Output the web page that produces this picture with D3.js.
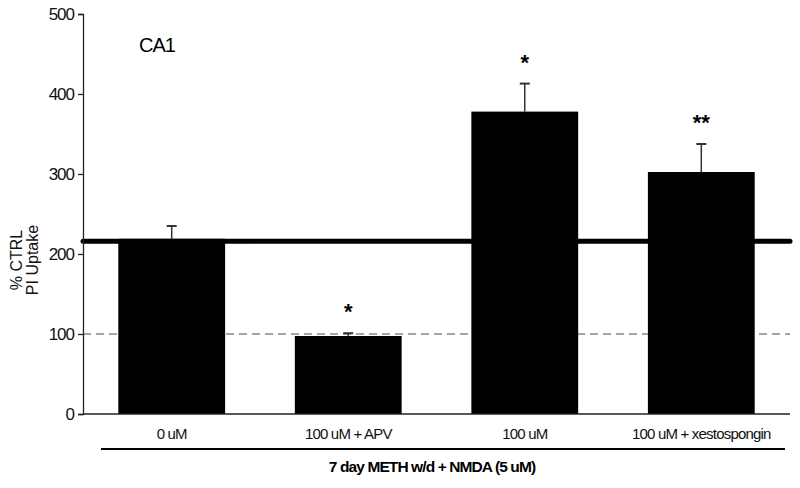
<!DOCTYPE html>
<html>
<head>
<meta charset="utf-8">
<script src="https://cdn.jsdelivr.net/npm/d3@7"></script>
<style>
body { margin: 0; background: #fff; }
text { font-family: "Liberation Sans", Arial, sans-serif; }
</style>
</head>
<body>
<script>
// data
var groups = ["0 uM", "100 uM + APV", "100 uM", "100 uM + xestospongin"]
var means = [219, 97.5, 378, 302.5]
var errs = [16, 3.5, 35, 35]
var stars = ["", "*", "*", "**"]
var yticks = [0, 100, 200, 300, 400, 500]
var baseline = 216
var ctrl = 100

var width = 800, height = 488
var mleft = 83, mright = 790, mtop = 14, mbottom = 414

var svg = d3.select("body").append("svg")
    .attr("width", width)
    .attr("height", height)

var xscale = d3.scaleBand()
    .domain(groups)
    .range([mleft, mright])
    .paddingInner(0.395)
    .paddingOuter(0.2)

var yscale = d3.scaleLinear()
    .domain([0, 500])
    .range([mbottom, mtop])

// dashed control line
svg.append("line")
    .attr("x1", mleft).attr("x2", mright)
    .attr("y1", yscale(ctrl)).attr("y2", yscale(ctrl))
    .attr("stroke", "#888")
    .attr("stroke-width", 1.3)
    .attr("stroke-dasharray", "8,5")

// thick reference line
svg.append("line")
    .attr("x1", mleft).attr("x2", mright)
    .attr("y1", yscale(baseline)).attr("y2", yscale(baseline))
    .attr("stroke", "#000")
    .attr("stroke-width", 5)
    .attr("stroke-linecap", "round")

// error bars
var eb = svg.selectAll(".err")
    .data(groups)
    .enter()
    .append("g")
    .attr("class", "err")
eb.append("line")
    .attr("x1", function(d) { return xscale(d) + xscale.bandwidth() / 2 })
    .attr("x2", function(d) { return xscale(d) + xscale.bandwidth() / 2 })
    .attr("y1", function(d, i) { return yscale(means[i]) })
    .attr("y2", function(d, i) { return yscale(means[i] + errs[i]) })
    .attr("stroke", "#333")
    .attr("stroke-width", 1.5)
eb.append("line")
    .attr("x1", function(d) { return xscale(d) + xscale.bandwidth() / 2 - 5 })
    .attr("x2", function(d) { return xscale(d) + xscale.bandwidth() / 2 + 5 })
    .attr("y1", function(d, i) { return yscale(means[i] + errs[i]) })
    .attr("y2", function(d, i) { return yscale(means[i] + errs[i]) })
    .attr("stroke", "#333")
    .attr("stroke-width", 2)

// bars
svg.selectAll(".bar")
    .data(groups)
    .enter()
    .append("rect")
    .attr("class", "bar")
    .attr("x", function(d) { return xscale(d) })
    .attr("width", xscale.bandwidth())
    .attr("y", function(d, i) { return yscale(means[i]) })
    .attr("height", function(d, i) { return yscale(0) - yscale(means[i]) })
    .attr("fill", "#000")

// significance stars
svg.selectAll(".star")
    .data(groups)
    .enter()
    .append("text")
    .attr("class", "star")
    .attr("x", function(d) { return xscale(d) + xscale.bandwidth() / 2 })
    .attr("y", function(d, i) { return yscale(means[i] + errs[i]) - 14 })
    .attr("text-anchor", "middle")
    .attr("font-size", 22)
    .attr("font-weight", "bold")
    .text(function(d, i) { return stars[i] })

// y axis
var yaxis = svg.append("g")
    .attr("transform", "translate(" + mleft + ",0)")
    .call(d3.axisLeft(yscale).tickValues(yticks).tickSize(5).tickPadding(4))
yaxis.select(".domain").attr("stroke", "#222").attr("stroke-width", 1.3)
yaxis.selectAll(".tick line").attr("stroke", "#222").attr("stroke-width", 1.3)
yaxis.selectAll(".tick text")
    .attr("font-size", 17)
    .attr("letter-spacing", -1)
    .attr("fill", "#111")

// x axis line
svg.append("line")
    .attr("x1", mleft).attr("x2", mright)
    .attr("y1", mbottom).attr("y2", mbottom)
    .attr("stroke", "#222")
    .attr("stroke-width", 1.3)

// category labels
svg.selectAll(".cat")
    .data(groups)
    .enter()
    .append("text")
    .attr("class", "cat")
    .attr("x", function(d) { return xscale(d) + xscale.bandwidth() / 2 })
    .attr("y", 439)
    .attr("text-anchor", "middle")
    .attr("font-size", 15)
    .attr("letter-spacing", -0.8)
    .attr("fill", "#111")
    .text(function(d) { return d })

// group line and title
svg.append("line")
    .attr("x1", 101).attr("x2", 785)
    .attr("y1", 449).attr("y2", 449)
    .attr("stroke", "#000")
    .attr("stroke-width", 2.2)
svg.append("text")
    .attr("x", 432)
    .attr("y", 472)
    .attr("text-anchor", "middle")
    .attr("font-size", 15.5)
    .attr("font-weight", "bold")
    .attr("letter-spacing", -0.9)
    .text("7 day METH w/d + NMDA (5 uM)")

// y label, two lines rotated
var ylab = svg.append("text")
    .attr("transform", "translate(0,260) rotate(-90)")
    .attr("text-anchor", "middle")
    .attr("font-size", 16)
    .attr("fill", "#111")
ylab.append("tspan").attr("x", 0).attr("y", 22).text("% CTRL")
ylab.append("tspan").attr("x", 0).attr("y", 38).text("PI Uptake")

// panel label
svg.append("text")
    .attr("x", 139)
    .attr("y", 52)
    .attr("font-size", 20)
    .attr("letter-spacing", -1)
    .text("CA1")
</script>
</body>
</html>
